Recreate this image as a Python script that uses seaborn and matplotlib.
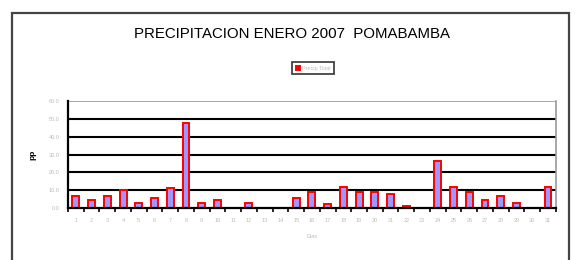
import numpy as np
import pandas as pd
import matplotlib
matplotlib.use('Agg')
import matplotlib.pyplot as plt
import seaborn as sns
from matplotlib.patches import Rectangle
from matplotlib.ticker import FixedLocator

# daily precipitation, January 2007
dias = [str(d) for d in range(1, 32)]
precip = [6.5, 4.5, 6.5, 10.0, 3.0, 5.5, 11.0, 47.5, 3.0, 4.5, 0.0, 3.0, 0.0, 0.0, 5.5,
          9.0, 2.0, 12.0, 9.0, 9.0, 8.0, 1.0, 0.0, 26.5, 12.0, 9.0, 4.5, 6.5, 3.0, 0.0, 12.0]
yticks = [0, 10, 20, 30, 40, 50, 60]

df = pd.DataFrame({'Dias': dias, 'pp': precip})

sns.set_style('white')
plt.rcParams['font.family'] = ['Liberation Sans', 'DejaVu Sans']

fig = plt.figure(figsize=(5.79, 2.6), dpi=100)
ax = fig.add_axes([0.1174, 0.2, 0.8426, 0.4115])

sns.barplot(data=df, x='Dias', y='pp', ax=ax, color='#9999FF', edgecolor='#FF0000',
            linewidth=1.4, width=0.44, label='Precip Total', saturation=1)

ax.set_ylim(0, 60)
ax.set_xlim(-0.5, 30.5)
ax.set_yticks(yticks)
ax.set_yticklabels([f'{v:.1f}' for v in yticks], fontsize=4, color='#BBBBBB')
ax.set_xticks(range(len(dias)))
ax.set_xticklabels(dias, fontsize=4, color='#BBBBBB')
ax.xaxis.set_minor_locator(FixedLocator(np.arange(-0.5, 31, 1)))
ax.tick_params(axis='x', which='major', length=0, pad=7)
ax.tick_params(axis='x', which='minor', length=3, width=1.2, color='black', direction='out')
ax.tick_params(axis='y', which='major', length=3, width=1.2, color='black', direction='out', pad=3)
ax.xaxis.set_tick_params(which='minor', bottom=True)

for v in yticks[1:-1]:
    ax.axhline(v, color='black', lw=1.5, zorder=0)
ax.axhline(60, color='#999999', lw=1.2, zorder=0)

ax.spines['left'].set_color('black')
ax.spines['left'].set_linewidth(1.6)
ax.spines['bottom'].set_color('black')
ax.spines['bottom'].set_linewidth(1.6)
ax.spines['right'].set_color('#999999')
ax.spines['right'].set_linewidth(1.2)
ax.spines['top'].set_visible(False)

ax.set_xlabel('Dias', fontsize=4, color='#BBBBBB', labelpad=8)
ax.set_ylabel('pp', fontsize=6, fontweight='bold', color='black', labelpad=9)

fig.text(0.504, 0.869, 'PRECIPITACION ENERO 2007  POMABAMBA', ha='center', va='center',
         fontsize=10.8, color='black')

leg = ax.legend(loc='center', bbox_to_anchor=(0.541, 0.738), bbox_transform=fig.transFigure,
                fontsize=4, frameon=True, fancybox=False, handlelength=0.7, handleheight=0.7,
                borderpad=0.6, handletextpad=0.5)
leg.get_frame().set_edgecolor('black')
leg.get_frame().set_linewidth(1.2)
for t in leg.get_texts():
    t.set_color('#BBBBBB')
for h in leg.legend_handles:
    h.set_facecolor('#FF0000')

# outer chart area frame
fig.add_artist(Rectangle((12 / 579, -0.05), 557 / 579, 1 - 13 / 260 + 0.05,
                         transform=fig.transFigure, fill=False, edgecolor='#444444', lw=1.6))

fig.savefig('out.png', dpi=100)
